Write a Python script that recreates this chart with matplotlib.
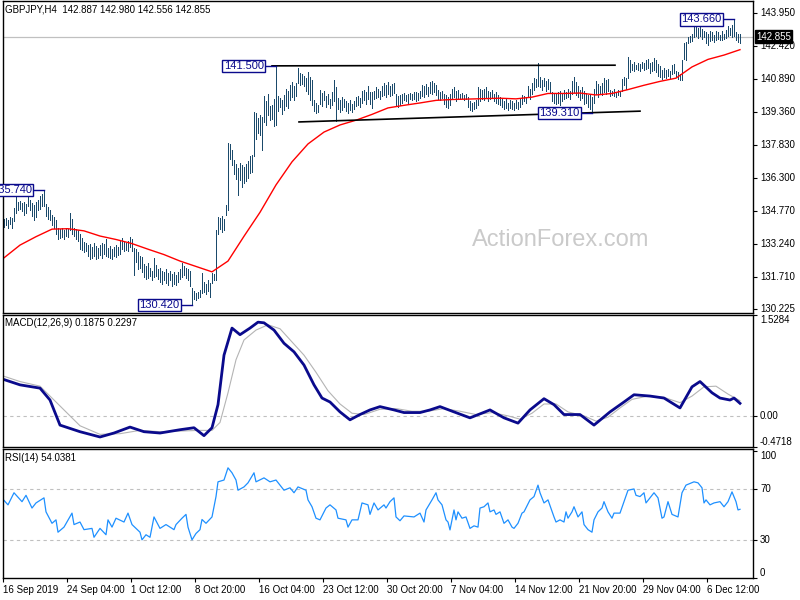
import matplotlib
matplotlib.use("Agg")
import matplotlib.pyplot as plt
import matplotlib.transforms as mtransforms
import numpy as np

plt.rcParams["font.family"] = ["Liberation Sans", "DejaVu Sans"]

# ---- H4 bars, 16 Sep 2019 -> 10 Dec 2019 (one value per bar) ----
highs = [
    134.40, 134.45, 134.35, 134.50, 134.45, 134.90, 135.50, 135.20, 135.25, 135.15,
    135.20, 135.10, 135.60, 135.30, 135.15, 135.05, 135.20, 135.30, 135.45, 135.55,
    135.74, 135.10, 134.95, 134.80, 134.60, 134.50, 134.35, 134.00, 133.95, 134.00,
    133.90, 134.00, 133.95, 134.70, 134.40, 134.00, 133.95, 133.90, 133.70, 133.50,
    133.35, 133.30, 133.20, 133.25, 133.10, 133.30, 133.15, 133.05, 133.20, 133.30,
    133.25, 133.45, 133.05, 133.15, 133.00, 133.10, 133.20, 133.10, 133.40, 133.50,
    133.35, 133.30, 133.40, 133.55, 133.45, 133.05, 133.00, 132.85, 132.70, 132.65,
    132.30, 132.20, 132.35, 132.15, 132.00, 132.60, 132.25, 132.10, 132.15, 132.00,
    131.95, 132.10, 131.90, 132.00, 131.85, 131.95, 131.80, 131.95, 132.10, 132.35,
    132.20, 132.15, 132.10, 132.00, 131.20, 131.05, 130.95, 131.00, 131.10, 131.90,
    131.50, 131.40, 131.55, 131.45, 131.90, 131.85, 133.90, 134.50, 134.45, 134.55,
    134.40, 135.05, 137.92, 137.90, 137.60, 137.15, 136.95, 136.75, 137.00, 136.90,
    136.80, 136.95, 137.10, 137.30, 137.35, 139.35, 139.30, 139.10, 139.20, 139.15,
    140.10, 139.85, 140.20, 139.65, 139.70, 139.95, 141.50, 140.10, 140.00, 139.90,
    140.15, 140.45, 140.35, 140.60, 140.75, 140.55, 140.70, 141.40, 141.15, 141.10,
    141.05, 140.95, 141.20, 141.00, 140.85, 139.90, 139.80, 139.70, 140.40, 140.25,
    140.35, 140.10, 140.20, 139.95, 140.30, 140.85, 140.50, 140.00, 139.90, 140.05,
    139.95, 139.85, 139.80, 139.90, 139.75, 139.85, 140.05, 140.10, 140.00, 140.35,
    140.40, 140.30, 140.55, 140.30, 140.28, 140.35, 140.50, 140.45, 140.35, 140.55,
    140.70, 140.60, 140.75, 140.55, 140.65, 140.72, 140.20, 140.10, 140.15, 140.20,
    140.25, 140.15, 140.20, 140.25, 140.20, 140.30, 140.28, 140.25, 140.35, 140.60,
    140.55, 140.65, 140.50, 140.75, 140.80, 140.70, 140.60, 140.40, 140.30, 140.35,
    140.20, 140.15, 140.05, 140.20, 140.45, 140.50, 140.35, 140.40, 140.20, 140.25,
    140.15, 140.20, 140.05, 139.85, 139.80, 139.82, 139.90, 140.50, 140.45, 140.40,
    140.45, 140.50, 140.35, 140.30, 140.40, 140.20, 140.30, 140.15, 140.05, 139.95,
    139.85, 139.95, 139.80, 139.90, 139.85, 139.80, 139.90, 139.82, 139.95, 140.15,
    140.10, 140.05, 140.55, 140.45, 140.70, 140.95, 140.90, 141.62, 141.00, 140.85,
    140.95, 140.80, 140.90, 140.75, 140.30, 140.25, 140.20, 140.30, 140.35, 140.25,
    140.40, 140.30, 140.45, 140.35, 140.80, 140.98, 140.75, 140.55, 140.40, 140.50,
    140.35, 140.25, 140.15, 140.20, 140.05, 140.45, 140.80, 140.65, 140.55, 140.70,
    140.95, 140.85, 140.90, 140.40, 140.35, 140.45, 140.30, 140.40, 140.35, 140.90,
    141.00, 140.95, 141.90, 141.75, 141.60, 141.70, 141.55, 141.65, 141.58, 141.70,
    141.62, 141.75, 141.80, 141.65, 141.70, 141.85, 141.75, 141.60, 141.50, 141.30,
    141.40, 141.30, 141.35, 141.25, 141.55, 141.60, 141.25, 141.20, 141.10, 141.75,
    142.55, 142.60, 142.85, 142.90, 143.00, 143.30, 143.35, 143.25, 143.30, 143.20,
    143.10, 143.05, 143.00, 143.10, 143.05, 142.95, 143.10, 143.05, 142.95, 143.10,
    143.00, 143.15, 143.35, 143.25, 143.40, 143.66, 143.05, 143.00, 142.98,
]
lows = [
    134.05, 134.10, 134.00, 134.15, 134.00, 134.30, 134.70, 134.80, 134.85, 134.75,
    134.60, 134.70, 135.00, 134.80, 134.55, 134.35, 134.50, 134.80, 134.85, 135.00,
    135.00, 134.55, 134.40, 134.35, 134.10, 134.00, 133.70, 133.45, 133.50, 133.55,
    133.45, 133.60, 133.55, 133.90, 133.70, 133.60, 133.45, 133.40, 133.00, 132.95,
    132.85, 132.90, 132.70, 132.55, 132.60, 132.70, 132.55, 132.60, 132.75, 132.60,
    132.80, 132.70, 132.65, 132.60, 132.55, 132.70, 132.65, 132.75, 132.80, 133.00,
    132.90, 132.95, 132.90, 133.10, 132.90, 131.80, 132.40, 132.10, 132.15, 131.95,
    131.70, 131.60, 131.65, 131.75, 131.55, 131.70, 131.75, 131.60, 131.50, 131.40,
    131.55, 131.45, 131.35, 131.55, 131.30, 131.40, 131.35, 131.50, 131.60, 131.70,
    131.80, 131.65, 131.55, 131.30, 130.42, 130.70, 130.65, 130.75, 130.80, 130.95,
    131.00, 130.90, 131.05, 130.80, 131.45, 131.55, 131.55, 133.70, 133.95, 133.80,
    133.90, 134.60, 134.82, 137.20, 136.90, 136.50, 136.25, 135.50, 136.20, 135.90,
    136.05, 136.15, 136.30, 136.55, 136.60, 137.30, 138.10, 138.40, 138.30, 137.60,
    138.90, 138.75, 139.20, 139.00, 139.05, 138.70, 138.75, 139.40, 139.60, 139.25,
    139.45, 139.65, 139.55, 139.90, 140.05, 139.90, 140.10, 140.70, 140.60, 140.65,
    140.55, 140.35, 140.20, 139.90, 139.70, 139.40, 139.30, 139.35, 139.75, 139.65,
    139.90, 139.60, 139.75, 139.55, 139.70, 139.85, 138.95, 139.50, 139.35, 139.45,
    139.60, 139.40, 139.30, 139.45, 139.35, 139.50, 139.65, 139.70, 139.60, 139.80,
    139.90, 139.75, 139.95, 139.75, 139.55, 139.95, 140.00, 140.05, 139.95, 140.10,
    140.15, 140.05, 140.20, 140.10, 140.15, 140.25, 139.65, 139.60, 139.70, 139.80,
    139.90, 139.85, 139.80, 139.95, 139.90, 139.95, 139.85, 139.90, 140.00, 140.10,
    140.05, 140.20, 140.10, 140.25, 140.20, 140.30, 140.15, 139.95, 139.90, 140.00,
    139.75, 139.60, 139.55, 139.70, 139.95, 140.05, 139.85, 140.00, 139.95, 140.00,
    139.90, 139.95, 139.60, 139.45, 139.40, 139.50, 139.55, 139.70, 139.85, 139.95,
    139.90, 140.00, 139.85, 139.95, 140.05, 139.85, 139.80, 139.75, 139.70, 139.60,
    139.50, 139.55, 139.45, 139.55, 139.50, 139.45, 139.55, 139.50, 139.60, 139.75,
    139.85, 139.80, 140.05, 139.95, 140.20, 140.40, 140.50, 140.55, 140.50, 140.40,
    140.55, 140.35, 140.45, 140.30, 139.85, 139.80, 139.75, 139.80, 139.70, 139.85,
    139.95, 140.00, 140.05, 139.95, 140.20, 140.30, 140.15, 140.05, 139.90, 140.00,
    139.75, 139.80, 139.60, 139.50, 139.31, 139.80, 140.20, 140.05, 140.25, 140.15,
    140.30, 140.20, 140.35, 140.10, 140.15, 140.10, 140.05, 140.15, 140.10, 140.35,
    140.60, 140.45, 140.95, 141.20, 141.30, 141.25, 141.35, 141.30, 141.25, 141.40,
    141.30, 141.35, 141.40, 141.15, 141.25, 141.30, 141.20, 141.05, 141.00, 140.90,
    141.00, 140.95, 141.05, 140.95, 141.10, 141.15, 140.98, 140.90, 140.85, 140.84,
    141.80, 141.75, 142.55, 142.60, 142.65, 142.85, 142.90, 142.80, 142.90, 142.75,
    142.85, 142.55, 142.45, 142.65, 142.70, 142.60, 142.70, 142.75, 142.70, 142.72,
    142.75, 142.80, 142.90, 142.95, 142.85, 142.90, 142.70, 142.60, 142.56,
]

# moving average (red), read every 8 bars
ma_bars = list(range(0, 369, 8))
ma_vals = [132.60, 133.19, 133.58, 133.93, 133.95, 133.85, 133.61, 133.45, 133.26, 133.00,
           132.75, 132.45, 132.20, 131.95, 132.45, 133.60, 134.71, 135.98, 137.05, 137.88,
           138.43, 138.76, 138.98, 139.25, 139.55, 139.67, 139.78, 139.90, 139.94, 139.96,
           139.98, 140.00, 139.97, 140.05, 140.22, 140.22, 140.24, 140.15, 140.22, 140.40,
           140.60, 140.78, 140.93, 141.45, 141.80, 142.00, 142.25]

# analyst lines (bar, price)
upper_line = [(134, 141.50), (305.5, 141.53)]
lower_line = [(147.5, 138.90), (318, 139.40)]

# price tags
tag_bars = [20, 94, 136, 294, 365]
tag_prices = [135.74, 130.42, 141.50, 139.31, 143.66]
last_price = 142.855

# MACD(12,26,9) main and signal, (bar, value)
macd_main = [(0, 0.55), (8, 0.47), (18, 0.42), (23, 0.24), (28, -0.14), (38, -0.24), (48, -0.32),
             (55, -0.26), (63, -0.17), (70, -0.24), (78, -0.26), (88, -0.21), (95, -0.18),
             (100, -0.30), (104, -0.18), (107, 0.17), (110, 0.92), (114, 1.33), (118, 1.23),
             (123, 1.33), (127, 1.42), (130, 1.41), (135, 1.30), (140, 1.10), (145, 0.97),
             (150, 0.77), (155, 0.47), (159, 0.27), (163, 0.21), (168, 0.06), (173, -0.06),
             (178, 0.02), (183, 0.09), (188, 0.14), (195, 0.09), (200, 0.05), (208, 0.05),
             (213, 0.09), (218, 0.14), (225, 0.06), (233, -0.03), (243, 0.09), (250, -0.03),
             (257, -0.11), (263, 0.09), (270, 0.26), (275, 0.17), (280, 0.02), (288, 0.02),
             (295, -0.14), (303, 0.06), (310, 0.21), (315, 0.32), (323, 0.30), (330, 0.27),
             (338, 0.12), (344, 0.44), (348, 0.52), (354, 0.35), (358, 0.27), (363, 0.24),
             (365, 0.27), (368, 0.19)]
macd_signal = [(0, 0.60), (8, 0.52), (18, 0.45), (28, 0.15), (38, -0.15), (48, -0.28), (58, -0.27),
               (68, -0.22), (78, -0.24), (88, -0.23), (98, -0.22), (104, -0.22), (108, -0.10),
               (112, 0.35), (116, 0.85), (120, 1.15), (126, 1.30), (132, 1.38), (138, 1.32),
               (144, 1.12), (150, 0.92), (156, 0.66), (162, 0.38), (168, 0.18), (174, 0.04),
               (180, 0.02), (188, 0.10), (196, 0.11), (204, 0.07), (212, 0.07), (220, 0.11),
               (228, 0.07), (236, 0.02), (244, 0.05), (252, 0.00), (258, -0.05), (264, 0.04),
               (270, 0.18), (276, 0.18), (282, 0.06), (290, 0.00), (296, -0.08), (302, -0.02),
               (308, 0.12), (314, 0.25), (322, 0.30), (330, 0.28), (338, 0.20), (344, 0.30),
               (350, 0.44), (356, 0.45), (362, 0.33), (368, 0.23)]

# RSI(14), (bar, value)
rsi = [(0, 61), (2, 57.5), (5, 67), (9, 60), (11, 65), (14, 55), (16, 59), (18, 61), (20, 63),
       (21, 52), (24, 43), (26, 45.7), (27, 36), (30, 40), (34, 51), (35, 42), (38, 44), (40, 38),
       (44, 39), (45, 32), (48, 39), (51, 34), (52, 45.7), (54, 40), (56, 47), (60, 44), (62, 51),
       (64, 42), (66, 39), (68, 36), (69, 30), (71, 34), (73, 32), (75, 48), (78, 39), (81, 42),
       (85, 38), (86, 42), (89, 47), (91, 50), (92, 40), (94, 30), (96, 35), (98, 38), (99, 46),
       (101, 43), (104, 48), (106, 64), (107, 75.6), (110, 77), (112, 86.6), (114, 82.7),
       (116, 77), (117, 69), (120, 71.6), (122, 74.8), (125, 82.7), (126, 75.6), (130, 78.7),
       (133, 75.6), (136, 77), (140, 69), (143, 70.9), (145, 67), (147, 71.6), (151, 69),
       (152, 61.4), (154, 56), (156, 47), (158, 45.7), (161, 55), (163, 57.5), (166, 53.5),
       (167, 47), (171, 45.7), (172, 40), (174, 45.7), (177, 45.7), (179, 59), (182, 57.5),
       (183, 50), (185, 59), (187, 53.5), (190, 57.5), (191, 55), (193, 60), (195, 63), (196, 48),
       (198, 45), (200, 48.8), (205, 48), (208, 51), (210, 44), (211, 53.5), (214, 61.4),
       (216, 67), (217, 61.4), (219, 57.5), (221, 45.7), (222, 44), (223, 37.8), (225, 53.5),
       (226, 45.7), (227, 52), (229, 47), (231, 48), (233, 39), (235, 41), (237, 40), (238, 55),
       (240, 56), (242, 59), (243, 52), (245, 53.5), (246, 50), (248, 52), (250, 43),
       (252, 45.7), (254, 40), (255, 39), (257, 43), (259, 51), (260, 52), (263, 61.4),
       (265, 64), (267, 73), (268, 67), (270, 59), (272, 61.4), (275, 48), (276, 44),
       (278, 45.7), (280, 44), (281, 52), (282, 47), (284, 52), (285, 56), (287, 48), (289, 52),
       (290, 42), (292, 38), (294, 36), (295, 45.7), (297, 52), (299, 55), (300, 60), (302, 52),
       (304, 47), (305, 51), (308, 51), (310, 60), (312, 69), (315, 70), (316, 65), (318, 64),
       (320, 67), (321, 59), (324, 65), (325, 67), (327, 63), (329, 47), (330, 48), (332, 60),
       (334, 50), (337, 48), (339, 67), (341, 73), (345, 75.6), (347, 74.8), (349, 70.9),
       (350, 59), (351, 61.4), (353, 57.5), (355, 59), (358, 60), (360, 56), (362, 60),
       (364, 67.7), (366, 60), (367, 53.5), (368, 54)]

time_bars = [0, 32, 64, 96, 128, 160, 192, 224, 256, 288, 320, 352]
time_labels = ["16 Sep 2019", "24 Sep 04:00", "1 Oct 12:00", "8 Oct 20:00", "16 Oct 04:00",
               "23 Oct 12:00", "30 Oct 20:00", "7 Nov 04:00", "14 Nov 12:00", "21 Nov 20:00",
               "29 Nov 04:00", "6 Dec 12:00"]

price_ticks = [143.950, 142.420, 140.890, 139.360, 137.830, 136.300, 134.770, 133.240, 131.710, 130.225]
macd_ticks = [1.5284, 0.0, -0.4718]
macd_tick_labels = ["1.5284", "0.00", "-0.4718"]
rsi_ticks = [100, 70, 30, 0]

BAR = "#1b4a6b"
NAVY = "#0a0a8c"
LVL = "#c0c0c0"

W, H = 800, 600


def rect(l, t, r, b):
    return [l / W, 1 - b / H, (r - l) / W, (b - t) / H]


fig = plt.figure(figsize=(8, 6), dpi=100)
ax_p = fig.add_axes(rect(3, 0.5, 753, 312.5))
ax_m = fig.add_axes(rect(3, 315, 753, 447))
ax_r = fig.add_axes(rect(3, 449, 753, 578))

n = len(highs)
for ax in (ax_p, ax_m, ax_r):
    ax.set_xlim(-0.5, 374.5)
    for s in ax.spines.values():
        s.set_linewidth(1.0)
        s.set_color("black")
    ax.tick_params(axis="y", left=False, right=True, labelleft=False, labelright=False,
                   length=3, width=0.8)


def right_labels(ax, vals, labels, lo, hi):
    tr = mtransforms.blended_transform_factory(ax.transAxes, ax.transData)
    for v, s in zip(vals, labels):
        va = "center"
        if v >= hi:
            va = "top"
        elif v <= lo:
            va = "bottom"
        ax.text(1.0 + 7 / 750, v, s, transform=tr, ha="left", va=va, fontsize=7, clip_on=False)


# ---- price panel ----
ax_p.set_ylim(130.065, 144.53)
ax_p.axhline(last_price, color=LVL, lw=0.9, zorder=0)
ax_p.vlines(np.arange(n), lows, highs, color=BAR, lw=0.55, antialiased=False)
ax_p.plot(ma_bars, ma_vals, color="#ff0000", lw=1.0)
for line in (upper_line, lower_line):
    xs, ys = zip(*line)
    ax_p.plot(xs, ys, color="black", lw=1.2)
for b, p in zip(tag_bars, tag_prices):
    ax_p.plot([b - 5, b], [p, p], color=NAVY, lw=1.0)
    ax_p.text(b - 6.2, p, f"{p:.3f}", ha="right", va="center", color=NAVY, fontsize=8,
              bbox=dict(boxstyle="square,pad=0.12", fc="white", ec=NAVY, lw=1.0), clip_on=False)
ax_p.set_xticks([])
ax_p.set_yticks(price_ticks)
right_labels(ax_p, price_ticks, [f"{v:.3f}" for v in price_ticks], 130.0, 145.0)
trp = mtransforms.blended_transform_factory(ax_p.transAxes, ax_p.transData)
ax_p.text(1.0 + 3 / 750, last_price, f"{last_price:.3f}", transform=trp, ha="left", va="center",
          fontsize=7, color="white", clip_on=False, zorder=5,
          bbox=dict(boxstyle="square,pad=0.15", fc="black", ec="black"))

fig.text(5 / W, 1 - 10 / H, "GBPJPY,H4  142.887 142.980 142.556 142.855", fontsize=7, va="center")
fig.text(561 / W, 1 - 240 / H, "ActionForex.com", fontsize=17, color="#cacaca",
         ha="center", va="center")

# ---- MACD panel ----
ax_m.set_ylim(-0.4718, 1.5284)
ax_m.axhline(0, color=LVL, lw=0.8, ls=(0, (3, 3)))
xs, ys = zip(*macd_signal)
ax_m.plot(xs, ys, color="#b4b4b4", lw=0.8)
xs, ys = zip(*macd_main)
ax_m.plot(xs, ys, color=NAVY, lw=2.0, solid_joinstyle="round")
ax_m.set_xticks([])
ax_m.set_yticks(macd_ticks)
right_labels(ax_m, macd_ticks, macd_tick_labels, -0.4718, 1.5284)
fig.text(5 / W, 1 - 323 / H, "MACD(12,26,9) 0.1875 0.2297", fontsize=7, va="center")

# ---- RSI panel ----
ax_r.set_ylim(0, 101.4)
for lv in (70, 30):
    ax_r.axhline(lv, color=LVL, lw=0.8, ls=(0, (3, 3)))
xs, ys = zip(*rsi)
ax_r.plot(xs, ys, color="#1e90ff", lw=0.9)
ax_r.set_yticks(rsi_ticks)
right_labels(ax_r, rsi_ticks, [str(v) for v in rsi_ticks], 0, 100)
ax_r.set_xticks([b - 0.5 for b in time_bars])
ax_r.set_xticklabels(time_labels, ha="left", fontsize=7)
ax_r.tick_params(axis="x", length=3, width=0.8, pad=2)
fig.text(5 / W, 1 - 458 / H, "RSI(14) 54.0381", fontsize=7, va="center")

fig.savefig("out.png", dpi=100)
